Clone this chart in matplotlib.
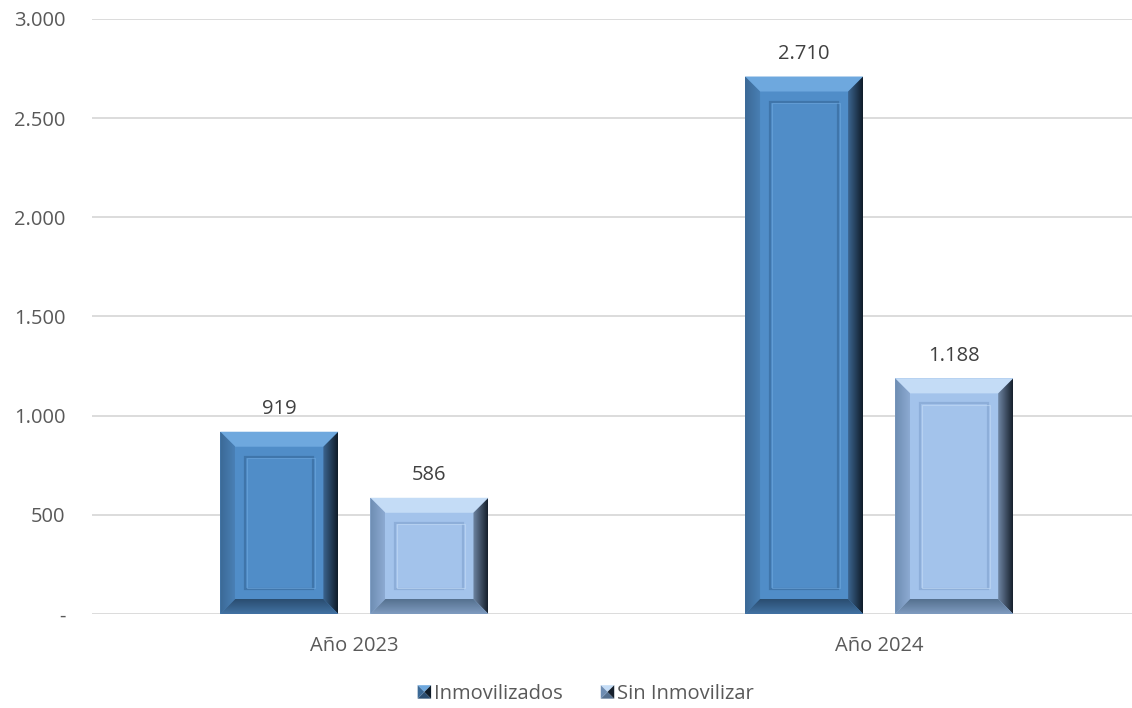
import numpy as np
import matplotlib
matplotlib.use("Agg")
import matplotlib.pyplot as plt
from matplotlib.patches import Polygon, Rectangle, Patch
from matplotlib.legend_handler import HandlerBase
from matplotlib.ticker import FuncFormatter
from matplotlib.colors import LinearSegmentedColormap

plt.rcParams['font.family'] = ['Open Sans', 'DejaVu Sans']

# data
categories = ["Año 2023", "Año 2024"]
series_names = ["Inmovilizados", "Sin Inmovilizar"]
inmovilizados = [919, 2710]
sin_inmovilizar = [586, 1188]
yticks = [0, 500, 1000, 1500, 2000, 2500, 3000]

# bevel colour sets: face, top, left(outer, inner), right(inner, outer), bottom(inner, outer)
styles = {
    "Inmovilizados": dict(face="#508DC8", top="#6EA8DE", left=("#3B6996", "#4A80B5"),
                          right=("#3C6590", "#0F1C29"), bottom=("#2A4D70", "#4272A3"),
                          line="#3F75AA"),
    "Sin Inmovilizar": dict(face="#A3C3EB", top="#C4DCF6", left=("#6E8DB2", "#8CAAD2"),
                            right=("#6F86A4", "#16202C"), bottom=("#55708F", "#7F9CC0"),
                            line="#8DAED9"),
}

def fmt(v, pos=None):
    if v == 0:
        return "-"
    return f"{v:,.0f}".replace(",", ".")

fig = plt.figure(figsize=(11.32, 7.08), dpi=100)
ax = fig.add_axes([92 / 1132, 1 - 614 / 708, (1141.5 - 92) / 1132, (614 - 19) / 708])
ax.set_xlim(-0.5, 1.5)
ax.set_ylim(0, 3000)
ax.set_yticks(yticks)
ax.yaxis.set_major_formatter(FuncFormatter(fmt))
ax.grid(axis="y", color="#D9D9D9", linewidth=1.3)
ax.set_axisbelow(True)
for s in ax.spines.values():
    s.set_visible(False)
ax.tick_params(length=0, labelsize=14.5, labelcolor="#595959")
ax.tick_params(axis="y", pad=19)
ax.tick_params(axis="x", pad=16)
x = np.arange(len(categories))
ax.set_xticks(x)
ax.set_xticklabels(categories)

width = 0.225
offset = 0.143
bars_a = ax.bar(x - offset, inmovilizados, width, color=styles["Inmovilizados"]["face"], zorder=2)
bars_b = ax.bar(x + offset, sin_inmovilizar, width, color=styles["Sin Inmovilizar"]["face"], zorder=2)

inv = ax.transData.inverted()

def to_data(pts):
    return inv.transform(np.array(pts))

def grad_poly(pts_px, c0, c1, horizontal, x0, x1, y0, y1):
    poly = Polygon(to_data(pts_px), closed=True, facecolor="none", edgecolor="none", zorder=3)
    ax.add_patch(poly)
    cmap = LinearSegmentedColormap.from_list("g", [c0, c1])
    g = np.linspace(0, 1, 64)
    img = g[None, :] if horizontal else g[:, None]
    (dx0, dy0), (dx1, dy1) = to_data([(x0, y0), (x1, y1)])
    im = ax.imshow(img, cmap=cmap, extent=[dx0, dx1, dy0, dy1], origin="lower",
                   aspect="auto", interpolation="bilinear", zorder=3)
    im.set_clip_path(poly)

def bevel(bar, st):
    (L, B), (R, T) = ax.transData.transform([(bar.get_x(), 0), (bar.get_x() + bar.get_width(), bar.get_height())])
    b = 15
    ax.add_patch(Polygon(to_data([(L, T), (R, T), (R - b, T - b), (L + b, T - b)]),
                         facecolor=st["top"], edgecolor="none", zorder=3))
    grad_poly([(L, B), (L, T), (L + b, T - b), (L + b, B + b)], st["left"][0], st["left"][1],
              True, L, L + b, B, T)
    grad_poly([(R, B), (R, T), (R - b, T - b), (R - b, B + b)], st["right"][0], st["right"][1],
              True, R - b, R, B, T)
    grad_poly([(L, B), (R, B), (R - b, B + b), (L + b, B + b)], st["bottom"][1], st["bottom"][0],
              False, L, R, B, B + b)
    # recessed inner panel
    i = b + 10
    (a0, a1), (a2, a3) = to_data([(L + i, B + i), (R - i, T - i)])
    ax.add_patch(Rectangle((a0, a1), a2 - a0, a3 - a1, facecolor="none",
                           edgecolor=st["line"], linewidth=1.6, zorder=4))
    (c0, c1), (c2, c3) = to_data([(L + i + 1.5, B + i + 1.5), (R - i + 1.5, T - i - 1.5)])
    ax.add_patch(Rectangle((c0, c1), c2 - c0, c3 - c1, facecolor="none",
                           edgecolor=st["top"], linewidth=0.8, alpha=0.6, zorder=4))

for bars, name in [(bars_a, "Inmovilizados"), (bars_b, "Sin Inmovilizar")]:
    for bar in bars:
        bevel(bar, styles[name])
        ax.annotate(fmt(bar.get_height()), (bar.get_x() + bar.get_width() / 2, bar.get_height()),
                    xytext=(0, 9), textcoords="offset points", ha="center", va="bottom",
                    fontsize=14.5, color="#404040")

ax.set_xlim(-0.5, 1.5)
ax.set_ylim(0, 3000)


class BevelHandler(HandlerBase):
    def __init__(self, st):
        super().__init__()
        self.st = st

    def create_artists(self, legend, orig_handle, xdescent, ydescent, width, height, fontsize, trans):
        s = height * 1.0
        x0 = width - s
        y0 = -ydescent
        cx, cy = x0 + s / 2, y0 + s / 2
        st = self.st
        tris = [
            ([(x0, y0 + s), (x0 + s, y0 + s), (cx, cy)], st["top"]),
            ([(x0, y0), (x0 + s, y0), (cx, cy)], st["bottom"][0]),
            ([(x0, y0), (x0, y0 + s), (cx, cy)], st["left"][0]),
            ([(x0 + s, y0), (x0 + s, y0 + s), (cx, cy)], st["right"][1]),
        ]
        arts = []
        for pts, c in tris:
            p = Polygon(pts, closed=True, facecolor=c, edgecolor="none", transform=trans)
            arts.append(p)
        return arts


h1 = Patch(facecolor=styles["Inmovilizados"]["face"])
h2 = Patch(facecolor=styles["Sin Inmovilizar"]["face"])
fig.legend([h1, h2], series_names, loc="center", bbox_to_anchor=(586 / 1132, 1 - 694 / 708),
           ncol=2, frameon=False, fontsize=14.5, labelcolor="#595959",
           handlelength=0.65, handleheight=0.65, handletextpad=0.15, columnspacing=1.9,
           handler_map={h1: BevelHandler(styles["Inmovilizados"]),
                        h2: BevelHandler(styles["Sin Inmovilizar"])})

fig.savefig("out.png", dpi=100)
